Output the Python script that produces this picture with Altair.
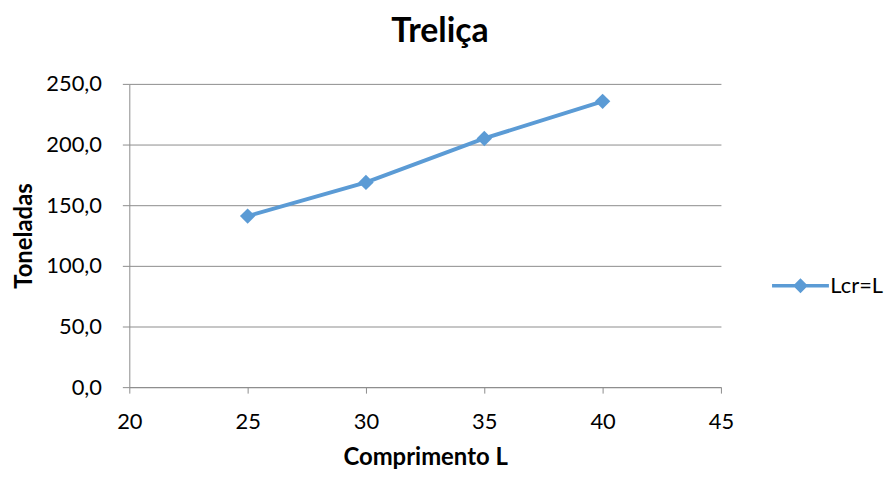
import altair as alt
import pandas as pd

comprimento = [25, 30, 35, 40]
toneladas = [141.0, 168.8, 205.0, 235.6]
serie = ["Lcr=L"] * 4

df = pd.DataFrame({"Comprimento L": comprimento, "Toneladas": toneladas, "Serie": serie})

FONT = "Lato"
GRAY = "#8c8c8c"
BLUE = "#5b9bd5"

legend_shape = "M-1,-0.06H1V0.06H-1Z M0,-0.26L0.26,0L0,0.26L-0.26,0Z"

axis_style = dict(domainColor=GRAY, tickColor=GRAY, gridColor=GRAY, gridWidth=1, domainWidth=1,
                  labelFont=FONT, labelFontSize=22, labelColor="#000000",
                  titleFont=FONT, titleFontSize=24, titleFontWeight="bold", titleColor="#000000")

base = alt.Chart(df).encode(
    x=alt.X("Comprimento L:Q",
            scale=alt.Scale(domain=[20, 45], nice=False, zero=False),
            axis=alt.Axis(values=[20, 25, 30, 35, 40, 45], grid=False, tickSize=6,
                          labelFlush=False, labelPadding=19, titlePadding=13, format="d",
                          **axis_style)),
    y=alt.Y("Toneladas:Q",
            scale=alt.Scale(domain=[0, 250], nice=False),
            axis=alt.Axis(values=[0, 50, 100, 150, 200, 250], grid=True, tickSize=7,
                          labelPadding=21, titlePadding=9,
                          labelExpr="replace(format(datum.value, '.1f'), '.', ',')", **axis_style)),
    color=alt.Color("Serie:N", scale=alt.Scale(range=[BLUE]),
                    legend=alt.Legend(title=None, orient="none", legendX=646, legendY=174,
                                      padding=0,
                                      symbolType=legend_shape, symbolSize=3270,
                                      symbolStrokeWidth=0, symbolFillColor=BLUE,
                                      labelFontSize=22, labelFont=FONT, labelColor="#000000",
                                      labelOffset=1)),
)

line = base.mark_line(strokeWidth=4)
points = base.mark_point(shape="diamond", filled=True, size=240, opacity=1)

chart = (line + points).properties(
    width=595, height=305,
    background="white",
    padding={"left": 4, "top": 6, "right": 0, "bottom": 0},
    title=alt.TitleParams("Treliça", fontSize=34, font=FONT, fontWeight="bold",
                          color="#000000", dx=15, offset=24),
).configure_view(stroke=None)

chart.save("out.html", embed_options={"renderer": "svg", "actions": False})
